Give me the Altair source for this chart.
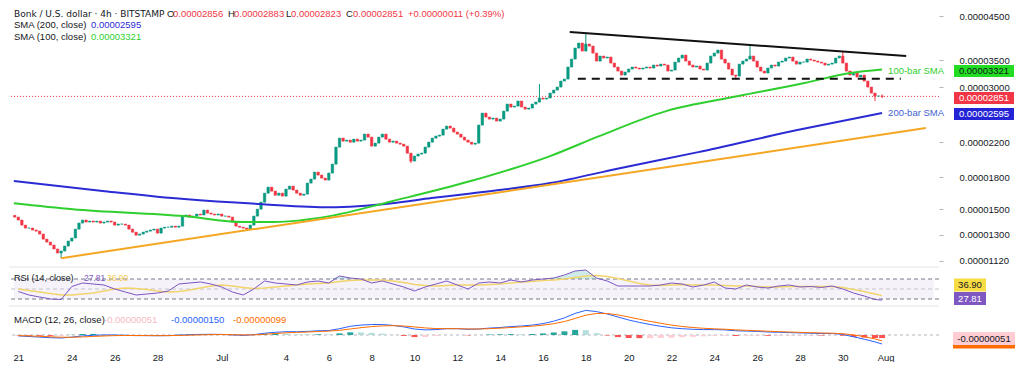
import altair as alt
import pandas as pd

# ------------------------------------------------------------------ data
# Bonk / U.S. dollar, 4h candles (BITSTAMP); prices in millionths of a dollar (x 1e-6)
# one close per 4h bar, first bar 2024-06-21 08:00
closes_u = [
    14.36, 14.12, 13.72, 13.49,                      # Jun 21
    13.49, 13.34, 13.26, 13.04, 12.67, 12.46,        # Jun 22
    12.25, 11.98, 11.71, 11.84, 12.18, 12.53,        # Jun 23
    12.75, 13.41, 13.88, 14.12, 13.96, 14.04,        # Jun 24
    13.96, 14.04, 13.88, 13.96, 14.04, 13.96,        # Jun 25
    13.72, 13.80, 13.80, 13.72, 13.41, 13.18,        # Jun 26
    12.96, 13.04, 13.18, 13.26, 13.34, 13.41,        # Jun 27
    13.11, 13.49, 13.56, 13.56, 13.64, 13.56,        # Jun 28
    13.64, 14.44, 14.53, 14.36, 14.44, 14.61,        # Jun 29
    14.53, 14.94, 14.69, 14.61, 14.53, 14.61,        # Jun 30
    14.44, 14.44, 14.36, 13.96, 13.64, 13.56,        # Jul 1
    13.49, 13.41, 13.72, 14.44, 15.02, 15.63,        # Jul 2
    16.45, 17.02, 16.64, 16.26, 16.45, 16.18,        # Jul 3
    16.83, 17.12, 16.74, 16.45, 16.26, 16.36,        # Jul 4
    17.42, 17.82, 18.54, 18.23, 17.92, 17.72,        # Jul 5
    18.44, 19.40, 21.37, 22.49, 22.11, 22.24,        # Jul 6
    21.98, 22.36, 22.11, 22.24, 23.01, 22.62,        # Jul 7
    21.49, 21.86, 22.62, 23.01, 22.36, 21.98,        # Jul 8
    22.11, 21.86, 21.73, 21.49, 20.65, 19.74,        # Jul 9
    20.31, 20.54, 20.65, 21.37, 21.98, 22.49,        # Jul 10
    22.75, 22.88, 23.67, 24.08, 23.81, 23.28,        # Jul 11
    23.01, 22.62, 22.24, 21.98, 21.73, 21.86,        # Jul 12
    24.22, 25.92, 25.35, 25.06, 25.20, 24.78,        # Jul 13
    25.06, 26.22, 27.29, 26.83, 26.98, 27.76,        # Jul 14
    26.83, 26.52, 26.68, 27.29, 27.60, 28.24,        # Jul 15
    28.08, 28.24, 29.05, 29.55, 30.06, 31.10,        # Jul 16
    31.46, 33.68, 35.24, 37.51, 38.60, 36.88,        # Jul 17
    38.38, 37.94, 36.46, 34.84, 35.85, 35.45,        # Jul 18
    35.65, 34.45, 33.68, 32.92, 32.18, 32.73,        # Jul 19
    33.30, 33.68, 33.49, 33.30, 33.49, 33.68,        # Jul 20
    33.49, 34.06, 33.87, 34.25, 34.06, 32.92,        # Jul 21
    33.11, 34.64, 35.45, 36.05, 34.84, 34.06,        # Jul 22
    33.68, 33.87, 33.30, 33.11, 34.45, 35.85,        # Jul 23
    36.46, 37.09, 35.24, 34.45, 33.30, 32.18,        # Jul 24
    32.00, 34.25, 34.84, 35.24, 35.85, 34.84,        # Jul 25
    33.68, 32.92, 32.55, 33.49, 34.06, 33.87,        # Jul 26
    34.64, 34.84, 35.45, 35.65, 34.84, 34.25,        # Jul 27
    34.64, 34.64, 35.24, 35.04, 34.84, 34.64,        # Jul 28
    34.45, 34.06, 34.25, 34.45, 35.45, 35.85,        # Jul 29
    34.45, 32.92, 32.18, 32.55, 31.82, 32.18,        # Jul 30
    31.10, 30.06, 29.05, 28.56, 28.56, 28.51,        # Jul 31
]
first_open_u = 14.50
wick_high_u = {"2024-07-15 20:00": 30.58, "2024-07-18 00:00": 40.85,
               "2024-07-25 16:00": 37.94, "2024-07-30 00:00": 36.88,
               "2024-07-31 20:00": 28.83}
wick_low_u = {"2024-06-23 12:00": 11.37, "2024-07-09 20:00": 19.52,
              "2024-07-25 00:00": 31.46, "2024-07-31 12:00": 27.76,
              "2024-07-31 20:00": 28.23}
last_close_u = 28.51

sma200_t = ["2024-06-21 07:00", "2024-06-25 13:00", "2024-06-29 06:00", "2024-07-02 22:00",
            "2024-07-06 01:00", "2024-07-08 23:00", "2024-07-10 19:00", "2024-07-12 08:00",
            "2024-07-16 08:00", "2024-07-19 14:00", "2024-07-23 06:00", "2024-07-27 21:00",
            "2024-07-31 20:00"]
sma200_u = [17.62, 16.64, 15.91, 15.45, 15.19, 15.54, 16.00, 16.36, 17.42, 18.96, 20.77, 23.54, 25.95]

sma100_t = ["2024-06-21 07:00", "2024-06-24 01:00", "2024-06-29 06:00", "2024-07-02 00:00",
            "2024-07-03 10:00", "2024-07-06 01:00", "2024-07-08 23:00", "2024-07-12 15:00",
            "2024-07-16 08:00", "2024-07-18 15:00", "2024-07-21 18:00", "2024-07-25 03:00",
            "2024-07-28 05:00", "2024-07-30 08:00", "2024-07-31 20:00"]
sma100_u = [15.54, 15.02, 14.44, 13.96, 13.96, 14.44, 15.72, 17.62, 20.31, 22.75, 26.22,
            28.56, 30.76, 32.55, 33.21]

support_t = ["2024-06-23 12:00", "2024-08-02 21:00"]
support_u = [11.37, 23.81]
resist_t = ["2024-07-17 06:00", "2024-08-01 23:00"]
resist_u = [41.08, 35.85]
level_t = ["2024-07-17 15:00", "2024-08-01 17:00"]
level_u = [31.51, 31.51]

# indicators sampled every 12h, 2024-06-21 12:00 ... 2024-07-31 12:00, plus 2024-07-31 20:00
rsi = [45, 38, 34, 30, 29, 55, 62, 60, 58, 50,
       44, 38, 40, 42, 46, 60, 62, 64, 60, 54,
       44, 38, 50, 66, 62, 60, 58, 64, 66, 62,
       76, 72, 70, 62, 66, 60, 54, 46, 54, 60,
       66, 58, 50, 62, 64, 62, 68, 64, 68, 70,
       72, 78, 86, 88, 72, 66, 56, 56, 56, 56,
       58, 62, 60, 54, 58, 64, 52, 50, 58, 54,
       52, 56, 58, 54, 55, 53, 56, 50, 42, 36,
       29, 27.81]
rsi_ma = [50, 47, 44, 41, 38, 38, 40, 42, 46, 50,
          52, 51, 49, 46, 44, 45, 48, 52, 56, 58,
          56, 53, 51, 52, 54, 56, 58, 60, 61, 62,
          65, 67, 68, 68, 68, 66, 63, 59, 57, 56,
          57, 58, 58, 58, 59, 60, 62, 64, 65, 67,
          68, 70, 73, 76, 77, 75, 71, 66, 61, 58,
          57, 58, 59, 58, 58, 58, 57, 56, 56, 55,
          54, 54, 55, 55, 55, 55, 55, 53, 49, 45,
          40, 36.90]
macd_u = [-0.15, -0.25, -0.35, -0.45, -0.50, -0.35, -0.15, -0.05, 0.00, 0.00,
          -0.05, -0.10, -0.10, -0.12, -0.10, -0.02, 0.05, 0.10, 0.12, 0.10,
          0.02, -0.05, 0.05, 0.30, 0.45, 0.55, 0.55, 0.60, 0.70, 0.75,
          1.05, 1.45, 1.65, 1.75, 1.75, 1.60, 1.35, 1.00, 0.85, 0.90,
          1.05, 1.05, 0.95, 1.00, 1.15, 1.25, 1.40, 1.50, 1.65, 1.90,
          2.30, 2.85, 3.60, 4.10, 3.90, 3.50, 3.00, 2.50, 2.10, 1.75,
          1.45, 1.20, 1.05, 0.95, 0.90, 0.90, 0.85, 0.70, 0.65, 0.60,
          0.50, 0.45, 0.40, 0.35, 0.30, 0.25, 0.25, 0.10, -0.30, -0.70,
          -1.15, -1.50]
signal_u = [-0.10, -0.15, -0.22, -0.30, -0.37, -0.38, -0.32, -0.24, -0.16, -0.10,
            -0.08, -0.08, -0.09, -0.10, -0.10, -0.07, -0.03, 0.02, 0.06, 0.08,
            0.06, 0.02, 0.02, 0.12, 0.25, 0.36, 0.44, 0.50, 0.58, 0.65,
            0.78, 1.00, 1.22, 1.40, 1.52, 1.56, 1.50, 1.35, 1.18, 1.07,
            1.06, 1.05, 1.01, 1.00, 1.06, 1.14, 1.25, 1.36, 1.48, 1.64,
            1.88, 2.24, 2.75, 3.30, 3.60, 3.58, 3.35, 3.00, 2.62, 2.27,
            1.95, 1.65, 1.42, 1.25, 1.12, 1.03, 0.96, 0.86, 0.78, 0.71,
            0.63, 0.56, 0.50, 0.44, 0.39, 0.34, 0.30, 0.22, 0.02, -0.28,
            -0.65, -0.99]

price_ticks_u = [11.2, 13, 15, 18, 22, 30, 35, 45]

# ------------------------------------------------------------------ tables
E = 1e-6
bar_t = pd.date_range("2024-06-21 08:00", periods=len(closes_u), freq="4h")
opens_u = [first_open_u] + closes_u[:-1]
cd = pd.DataFrame({"t": bar_t, "open": [v * E for v in opens_u],
                   "close": [v * E for v in closes_u]})
cd["high"] = cd[["open", "close"]].max(axis=1)
cd["low"] = cd[["open", "close"]].min(axis=1)
for k, v in wick_high_u.items():
    cd.loc[cd.t == pd.Timestamp(k), "high"] = v * E
for k, v in wick_low_u.items():
    cd.loc[cd.t == pd.Timestamp(k), "low"] = v * E


def line_df(ts, vals):
    return pd.DataFrame({"t": pd.to_datetime(ts), "price": [v * E for v in vals]})


sma200 = line_df(sma200_t, sma200_u)
sma100 = line_df(sma100_t, sma100_u)
support = line_df(support_t, support_u)
resist = line_df(resist_t, resist_u)
level = line_df(level_t, level_u)
last_df = pd.DataFrame({"price": [last_close_u * E]})

ind_t = list(pd.date_range("2024-06-21 12:00", "2024-07-31 12:00", freq="12h")) + [pd.Timestamp("2024-07-31 20:00")]
ind = pd.DataFrame({"t": ind_t, "rsi": rsi, "rsima": rsi_ma,
                    "macd": [v * E for v in macd_u], "signal": [v * E for v in signal_u]})
ind["rsi_hi"] = ind["rsi"].clip(lower=70)
ind["lvl70"] = 70
ind["hist"] = ind["macd"] - ind["signal"]
ind["zero"] = 0.0
cols = []
prev = 0.0
for h in ind["hist"]:
    if h >= 0:
        cols.append("#26a69a" if h >= prev else "#b2dfdb")
    else:
        cols.append("#ff5252" if h < prev else "#ffcdd2")
    prev = h
ind["hcol"] = cols

# ------------------------------------------------------------------ styling
W = 930
H_MAIN, H_RSI, H_MACD = 257, 37, 40
FONT = "Liberation Sans"
TXT = "#131722"
UP, DOWN = "#089981", "#f23645"
BLUE = "#2b2bd4"
GREEN = "#2fcf2f"
ORANGE = "#f5a623"
DUMMY = pd.DataFrame({"k": [0]})

xscale = alt.Scale(domain=[alt.DateTime(year=2024, month=6, date=21, hours=7, minutes=12),
                           alt.DateTime(year=2024, month=8, date=3, hours=6, minutes=10)])

tick_days = [(6, 21, 12), (6, 24, 0), (6, 26, 0), (6, 28, 0), (7, 1, 0), (7, 4, 0), (7, 6, 0), (7, 8, 0),
             (7, 10, 0), (7, 12, 0), (7, 14, 0), (7, 16, 0), (7, 18, 0), (7, 20, 0), (7, 22, 0),
             (7, 24, 0), (7, 26, 0), (7, 28, 0), (7, 30, 0), (8, 1, 0)]
x_axis = alt.Axis(values=[alt.DateTime(year=2024, month=m, date=d, hours=h) for m, d, h in tick_days],
                  labelExpr="date(datum.value) == 1 ? timeFormat(datum.value, '%b') : timeFormat(datum.value, '%-d')",
                  title=None, grid=False, domain=False, ticks=False, labelPadding=6, labelFontSize=9.5,
                  labelColor=TXT, labelFont=FONT, labelOverlap=False, labelBound=False, labelFlush=False)


def X(field="t"):
    return alt.X(f"{field}:T", scale=xscale, axis=None)


def XM(field="t"):
    return alt.X(f"{field}:T", scale=xscale, axis=x_axis)


main_scale = alt.Scale(type="log", domain=[10.876 * E, 46.84 * E], nice=False, zero=False)
main_axis = alt.Axis(orient="right", values=[v * E for v in price_ticks_u], format=".8f",
                     title=None, grid=False, domain=False, ticks=True, tickSize=4,
                     tickColor="#b2b5be", labelPadding=16, labelFontSize=9.5,
                     labelColor=TXT, labelFont=FONT, labelFlush=False, labelOverlap=False)


def Y(field):
    return alt.Y(f"{field}:Q", scale=main_scale, axis=main_axis)


def txt(text, x, y, color=TXT, size=9.5, align="left", font=FONT):
    return alt.Chart(DUMMY).mark_text(text=text, align=align, baseline="middle", fontSize=size,
                                      font=font, color=color).encode(x=alt.value(x), y=alt.value(y))


def tag(yenc, cx, w, h, bg, fg, text):
    k = w / h
    shape = f"M{-k:.3f},-1H{k:.3f}V1H{-k:.3f}Z"
    box = alt.Chart(DUMMY).mark_point(shape=shape, size=h * h, filled=True, opacity=1, color=bg,
                                      strokeWidth=0).encode(x=alt.value(cx), y=yenc)
    lab = alt.Chart(DUMMY).mark_text(text=text, align="center", baseline="middle", fontSize=9.5,
                                     font=FONT, color=fg).encode(x=alt.value(cx), y=yenc)
    return [box, lab]


dir_color = alt.condition("datum.close >= datum.open", alt.value(UP), alt.value(DOWN))

# ------------------------------------------------------------------ main panel
price_rule = alt.Chart(last_df).mark_rule(color=DOWN, strokeDash=[1, 2], strokeWidth=1).encode(y=Y("price"))
wicks = alt.Chart(cd).mark_rule(strokeWidth=1).encode(x=X(), y=Y("low"), y2=alt.Y2("high:Q"), color=dir_color)
bodies = alt.Chart(cd).mark_bar(size=2.4, strokeWidth=0.6).encode(
    x=X(), y=Y("open"), y2=alt.Y2("close:Q"), color=dir_color, stroke=dir_color)
l200 = alt.Chart(sma200).mark_line(color=BLUE, strokeWidth=2, interpolate="monotone").encode(x=X(), y=Y("price"))
l100 = alt.Chart(sma100).mark_line(color=GREEN, strokeWidth=2, interpolate="monotone").encode(x=X(), y=Y("price"))
sup = alt.Chart(support).mark_line(color=ORANGE, strokeWidth=2).encode(x=X(), y=Y("price"))
res = alt.Chart(resist).mark_line(color="#111111", strokeWidth=2).encode(x=X(), y=Y("price"))
lev = alt.Chart(level).mark_line(color="#111111", strokeWidth=2, strokeDash=[8, 6]).encode(x=X(), y=Y("price"))
lab100 = alt.Chart(sma100.tail(1)).mark_text(text="100-bar SMA", align="left", baseline="middle", dx=6, dy=1.5,
                                              fontSize=9.5, font=FONT, color=GREEN).encode(x=X(), y=Y("price"))
lab200 = alt.Chart(sma200.tail(1)).mark_text(text="200-bar SMA", align="left", baseline="middle", dx=6, dy=0.5,
                                              fontSize=9.5, font=FONT, color="#3f5fd0").encode(x=X(), y=Y("price"))

main_layers = [price_rule, wicks, bodies, l200, l100, sup, res, lev, lab100, lab200]
# value tags on the price scale (TradingView nudges them slightly apart from the tick labels)
main_layers += tag(alt.value(62), 975, 60, 12, "#22dd22", TXT, "0.00003321")
main_layers += tag(alt.value(89), 975, 60, 12, "#f23645", "#ffffff", "0.00002851")
main_layers += tag(alt.value(105), 975, 60, 12, "#2424d6", "#ffffff", "0.00002595")
main_layers += [
    txt("Bonk / U.S. dollar · 4h · BITSTAMP", 5, 4.5, size=9, font="DejaVu Sans"),
    txt("O", 158, 4.5), txt("0.00002856", 164, 4.5, DOWN),
    txt("H", 219, 4.5), txt("0.00002883", 225, 4.5, DOWN),
    txt("L", 277, 4.5), txt("0.00002823", 282, 4.5, DOWN),
    txt("C", 337, 4.5), txt("0.00002851", 344, 4.5, DOWN),
    txt("+0.00000011 (+0.39%)", 399, 4.5, DOWN),
    txt("SMA (200, close)", 5, 16), txt("0.00002595", 82, 16, BLUE),
    txt("SMA (100, close)", 5, 27.5), txt("0.00003321", 82, 27.5, GREEN),
]
main = alt.layer(*main_layers).properties(width=W, height=H_MAIN)

# ------------------------------------------------------------------ RSI panel
rsi_scale = alt.Scale(domain=[20, 94], nice=False, zero=False)


def YR(field):
    return alt.Y(f"{field}:Q", scale=rsi_scale, axis=None)


band_df = pd.DataFrame({"t0": [pd.Timestamp("2024-06-21 07:12")], "t1": [pd.Timestamp("2024-08-03 06:10")],
                        "hi": [70], "lo": [30]})
band = alt.Chart(band_df).mark_rect(color="#7e57c2", opacity=0.08).encode(
    x=X("t0"), x2="t1", y=YR("hi"), y2=alt.Y2("lo:Q"))
lvl = alt.Chart(pd.DataFrame({"v": [70, 30]})).mark_rule(color="#787b86", strokeDash=[4, 3], strokeWidth=1).encode(y=YR("v"))
mid = alt.Chart(pd.DataFrame({"v": [50]})).mark_rule(color="#c3c5cc", strokeDash=[4, 3], strokeWidth=1).encode(y=YR("v"))
sep1 = alt.Chart(DUMMY).mark_rule(color="#e0e3eb", strokeWidth=1).encode(y=alt.value(0))
ob = alt.Chart(ind).mark_area(color="#26a69a", opacity=0.22).encode(x=X(), y=YR("rsi_hi"), y2=alt.Y2("lvl70:Q"))
rma = alt.Chart(ind).mark_line(color="#f2d46b", strokeWidth=1.3).encode(x=X(), y=YR("rsima"))
rl = alt.Chart(ind).mark_line(color="#7e57c2", strokeWidth=1).encode(x=X(), y=YR("rsi"))
rsi_layers = [band, lvl, mid, sep1, ob, rma, rl,
              txt("RSI (14, close)", 5, 11, size=9), txt("27.81", 75, 11, "#7e57c2", size=8.5),
              txt("36.90", 98, 11, "#f2c94c", size=8.5)]
rsi_layers += tag(alt.value(18), 961, 32, 13, "#f7dc43", TXT, "36.90")
rsi_layers += tag(alt.value(31.5), 961, 32, 13, "#7e57c2", "#ffffff", "27.81")
rsi_panel = alt.layer(*rsi_layers).properties(width=W, height=H_RSI)

# ------------------------------------------------------------------ MACD panel
macd_scale = alt.Scale(domain=[-1.83 * E, 4.83 * E], nice=False, zero=False)


def YM(field):
    return alt.Y(f"{field}:Q", scale=macd_scale, axis=None)


zero = alt.Chart(pd.DataFrame({"v": [0.0]})).mark_rule(color="#b2b5be", strokeDash=[3, 3], strokeWidth=1).encode(y=YM("v"))
sep2 = alt.Chart(DUMMY).mark_rule(color="#e0e3eb", strokeWidth=1).encode(y=alt.value(0))
hist = alt.Chart(ind).mark_bar(size=6).encode(x=XM(), y=YM("hist"), y2=alt.Y2("zero:Q"),
                                             color=alt.Color("hcol:N", scale=None))
ml = alt.Chart(ind).mark_line(color="#2962ff", strokeWidth=1).encode(x=XM(), y=YM("macd"))
sl = alt.Chart(ind).mark_line(color="#ff6d00", strokeWidth=1).encode(x=XM(), y=YM("signal"))
macd_layers = [zero, sep2, hist, ml, sl,
               txt("MACD (12, 26, close)", 5, 14), txt("-0.00000051", 95, 14, "#f8b9c4"),
               txt("-0.00000150", 162, 14, "#2962ff"), txt("-0.00000099", 224, 14, "#ff6d00")]
macd_layers += tag(alt.value(36), 975, 62, 13, "#ff6d00", "#ffffff", "")
macd_layers += tag(alt.value(32.5), 975, 62, 13, "#ffcdd2", TXT, "-0.00000051")
macd_panel = alt.layer(*macd_layers).properties(width=W, height=H_MACD)

chart = alt.vconcat(main, rsi_panel, macd_panel, spacing=0).resolve_scale(
    x="shared", y="independent").properties(padding=0).configure_view(stroke=None)

chart.save("out.html", embed_options={"renderer": "svg", "actions": False})
